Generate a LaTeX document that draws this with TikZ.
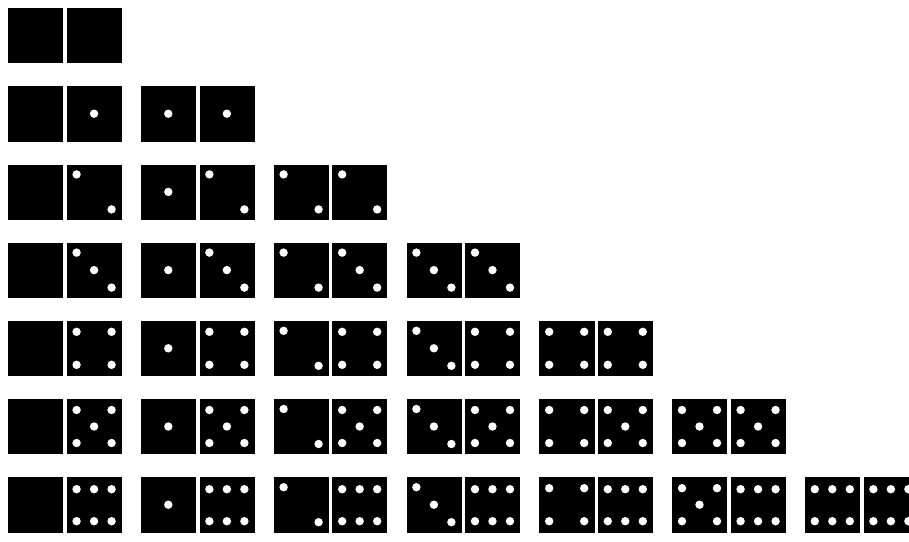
\documentclass[tikz,border=0pt]{standalone}
\usetikzlibrary{positioning,calc}

% white pip at (#2,#3) from the top left corner of half #1
\newcommand{\pipdot}[3]{\fill[white] ($(#1.north west)+(#2,-#3)$) circle (1.05mm);}
% pips of one half: node, count
\newcommand{\pipset}[2]{%
  \ifcase#2
  \or \pipdot{#1}{27.5}{27.5}
  \or \pipdot{#1}{10}{10} \pipdot{#1}{45}{45}
  \or \pipdot{#1}{10}{10} \pipdot{#1}{27.5}{27.5} \pipdot{#1}{45}{45}
  \or \pipdot{#1}{10}{11} \pipdot{#1}{45}{11} \pipdot{#1}{10}{44} \pipdot{#1}{45}{44}
  \or \pipdot{#1}{10}{11} \pipdot{#1}{45}{11} \pipdot{#1}{27.5}{27.5}
      \pipdot{#1}{10}{44} \pipdot{#1}{45}{44}
  \or \pipdot{#1}{10}{12} \pipdot{#1}{27.5}{12} \pipdot{#1}{45}{12}
      \pipdot{#1}{10}{44} \pipdot{#1}{27.5}{44} \pipdot{#1}{45}{44}
  \fi}

\begin{document}
\begin{tikzpicture}[
  x=0.025cm, y=0.025cm,
  half/.style={fill=black, inner sep=0pt, minimum size=1.375cm}
]
\useasboundingbox (0,0) rectangle (909,-541);

\foreach \r in {0,...,6}{
  \foreach \c in {0,...,\r}{
    \node[half, anchor=north west] (d\c\r a) at (8+132.8*\c, -8-78.2*\r) {};
    \node[half, right=0.075cm of d\c\r a] (d\c\r b) {};
    \pipset{d\c\r a}{\c}
    \pipset{d\c\r b}{\r}
  }
}
\end{tikzpicture}
\end{document}
